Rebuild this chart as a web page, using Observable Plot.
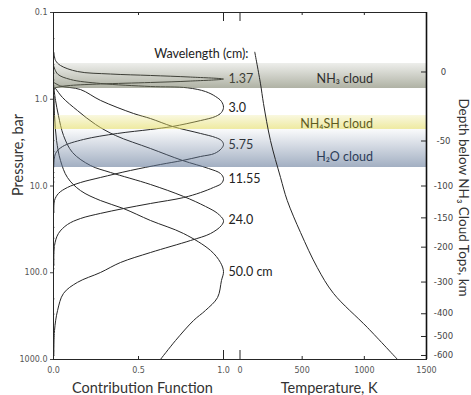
<!DOCTYPE html>
<html><head><meta charset="utf-8">
<script src="https://cdn.jsdelivr.net/npm/d3@7"></script>
<script src="https://cdn.jsdelivr.net/npm/@observablehq/plot@0.6"></script>
<style>
html,body{margin:0;padding:0;background:#fff;}
#chart{position:relative;width:471px;height:395px;overflow:hidden;background:#fff;}
#chart svg{position:absolute;left:0;top:0;}
</style></head><body><div id="chart"></div>
<script>
// ---- data ----
const wavelengths = ["1.37", "3.0", "5.75", "11.55", "24.0", "50.0 cm"];
const labelPressure = [0.59, 1.26, 3.4, 8.4, 24.5, 99];

const cf_1_37 = [0.002,0.012,0.041,0.141,0.335,0.571,0.806,1.0, 0.806,0.571,0.276,0.100,0.029,0.006,0.002,0.001];
const p_1_37  = [0.289,0.357,0.408,0.479,0.512,0.532,0.555,0.585, 0.617,0.641,0.667,0.693,0.723,0.752,0.906,1.76];

const cf_3_0 = [0.002,0.024,0.100,0.276,0.571,0.788,0.894,0.953,0.988,1.0, 0.988,0.953,0.865,0.700,0.571,0.376,0.176,0.053,0.012,0.002];
const p_3_0  = [0.419,0.512,0.592,0.658,0.713,0.738,0.815,0.929,1.06,1.24, 1.42,1.58,1.76,2.06,2.23,2.48,2.91,3.51,4.22,5.81];

const cf_5_75 = [0.002,0.041,0.159,0.276,0.471,0.571,0.700,0.865,0.953,0.988,1.0, 0.988,0.947,0.865,0.759,0.629,0.453,0.276,0.159,0.082,0.029,0.006,0.002];
const p_5_75  = [0.641,0.703,0.773,1.03,1.46,1.67,2.06,2.48,2.76,2.99,3.32, 3.70,4.22,4.57,5.08,5.65,6.62,7.98,9.12,10.4,12.2,14.7,20.2];

const cf_11_55 = [0.002,0.012,0.053,0.141,0.247,0.365,0.571,0.759,0.912,0.982,1.0, 0.988,0.941,0.865,0.765,0.571,0.412,0.276,0.159,0.082,0.029,0.006,0.002];
const p_11_55  = [0.713,0.752,0.955,1.35,1.95,2.62,3.70,5.08,6.28,7.17,8.20, 9.35,10.4,11.9,13.6,15.9,18.2,20.7,23.7,27.8,35.3,48.5,82.4];

const cf_24_0 = [0.002,0.012,0.029,0.059,0.112,0.218,0.335,0.571,0.765,0.894,0.965,1.0, 0.988,0.924,0.806,0.571,0.394,0.276,0.141,0.059,0.024,0.006,0.002];
const p_24_0  = [0.752,1.03,1.54,2.62,4.11,5.81,6.98,9.61,13.2,17.2,20.7,25.0, 28.5,35.3,42.5,58.4,76.2,99.4,129,173,272,463,899];

const cf_50_0 = [0.002,0.006,0.018,0.041,0.082,0.159,0.276,0.412,0.571,0.765,0.924,0.982,1.0, 0.988,0.965,0.894,0.824,0.718,0.629];
const p_50_0  = [0.792,1.54,2.99,5.08,7.98,11.3,14.7,18.2,25.0,35.3,55.4,76.2,96.9, 123,193,272,355,604,1000];

const tempK = [119,165,189,245,326,380,487,621,752,1025,1267];
const tempP = [0.287,0.664,1.12,2.99,7.98,14.7,34.4,86.9,173,428,1000];

const cloudNames  = ["NH₃ cloud", "NH₄SH cloud", "H₂O cloud"];
const cloudTop    = [0.387, 1.54, 2.23];
const cloudBottom = [0.752, 2.23, 6.12];
const cloudLabelP = [0.58, 1.92, 4.66];
const cloudLabelT = [1070, 1070, 1070];

const pressureTicks = [0.1, 1, 10, 100, 1000];
const pressureTickLabels = ["0.1", "1.0", "10.0", "100.0", "1000.0"];
const depthLabels = ["0", "-50", "-100", "-150", "-200", "-300", "-400", "-500", "-600"];
const depthPressures = [0.485, 3.03, 10, 23.3, 50.7, 128, 297, 543, 899];
const cfTicks = [0, 0.5, 1];
const cfTickLabels = ["0.0", "0.5", "1.0"];
const tempTicks = [0, 500, 1000, 1500];

// ---- layout ----
const W = 471, H = 395;
const mTop = 12, mBottom = 36;
const frameH = H - mTop - mBottom;
const ink = "#262626";
const tickFont = "DejaVu Sans";
const textFont = "Lato, 'Open Sans', sans-serif";

const curves = [[cf_1_37, p_1_37], [cf_3_0, p_3_0], [cf_5_75, p_5_75], [cf_11_55, p_11_55], [cf_24_0, p_24_0], [cf_50_0, p_50_0]];
const minorTicks = [];
for (const dec of [0.1, 1, 10, 100]) for (let k = 2; k <= 9; k++) minorTicks.push(+(dec * k).toPrecision(3));

const cfW = 223 - 53;
const cfPlot = Plot.plot({
  width: W, height: H,
  marginTop: mTop, marginBottom: mBottom, marginLeft: 53, marginRight: W - 223,
  x: {domain: [0, 1], axis: null},
  y: {type: "log", domain: [0.1, 1000], reverse: true, axis: null},
  style: {background: "#fff", fontFamily: tickFont, fontSize: "8px", color: "#555", overflow: "visible"},
  marks: [
    ...curves.map(([cf, p]) => Plot.line(cf.map((c, i) => ({cf: c, p: p[i]})),
      {x: "cf", y: "p", stroke: ink, strokeWidth: 1, curve: "catmull-rom"})),
    Plot.tickY(minorTicks, {y: d => d, insetRight: cfW - 2, stroke: "#999", strokeWidth: 0.8}),
    Plot.axisY({ticks: pressureTicks, tickFormat: d => pressureTickLabels[pressureTicks.indexOf(d)],
      tickSize: 3, tickPadding: 3, label: null, stroke: "#444"}),
    Plot.axisX({ticks: cfTicks, tickFormat: d => cfTickLabels[cfTicks.indexOf(d)],
      tickSize: 0, tickPadding: 8, label: null}),
    Plot.tickX([0.5], {x: d => d, insetTop: frameH - 3, stroke: ink}),
    Plot.tickX([0.5], {x: d => d, insetBottom: frameH - 3, stroke: ink}),
    Plot.tickX([1], {x: d => d, insetTop: frameH - 9, stroke: ink}),
    Plot.tickX([1], {x: d => d, insetBottom: frameH - 9, stroke: ink}),
    Plot.text(wavelengths, {x: () => 1, y: (d, i) => labelPressure[i], text: d => d, dx: 5,
      textAnchor: "start", fontFamily: textFont, fontSize: 12.5, fill: "#222"}),
    Plot.text(["Wavelength (cm):"], {x: () => 1, y: () => 0.297, text: d => d, dx: 25,
      textAnchor: "end", fontFamily: textFont, fontSize: 12.5, fill: "#222"}),
    Plot.text(["Pressure, bar"], {frameAnchor: "left", text: d => d, rotate: -90, dx: -35, dy: 10,
      fontFamily: textFont, fontSize: 14.5, fill: "#333"}),
    Plot.text(["Contribution Function"], {frameAnchor: "bottom", text: d => d, dx: 4, dy: 33,
      fontFamily: textFont, fontSize: 14.5, fill: "#333"})
  ]
});

const tPlot = Plot.plot({
  width: W, height: H,
  marginTop: mTop, marginBottom: mBottom, marginLeft: 53, marginRight: W - 426,
  x: {domain: [-1500, 1500], axis: null},
  y: {type: "log", domain: [0.1, 1000], reverse: true, axis: null},
  style: {background: "transparent", fontFamily: tickFont, fontSize: "8px", color: "#555", overflow: "visible"},
  marks: [
    Plot.rect([0], {x1: () => -1500, x2: () => 1500, y1: () => cloudTop[0], y2: () => cloudBottom[0], fill: "url(#gNH3)"}),
    Plot.rect([0], {x1: () => -1500, x2: () => 1500, y1: () => cloudTop[1], y2: () => cloudBottom[1], fill: "url(#gNH4SH)"}),
    Plot.rect([0], {x1: () => -1500, x2: () => 1500, y1: () => cloudTop[2], y2: () => cloudBottom[2], fill: "url(#gH2O)"}),
    Plot.line(tempK.map((t, i) => ({t, p: tempP[i]})), {x: "t", y: "p", stroke: ink, strokeWidth: 1, curve: "catmull-rom"}),
    Plot.text(cloudNames, {x: (d, i) => cloudLabelT[i], y: (d, i) => cloudLabelP[i], text: d => d,
      textAnchor: "end", fontFamily: textFont, fontSize: 12.5,
      fill: (d, i) => ["#2e2e2e", "#5e5c1e", "#2b3c58"][i]}),
    Plot.frame({stroke: ink, strokeWidth: 1}),
    Plot.ruleX([1500], {x: d => d, stroke: "#111", strokeWidth: 1.6}),
    Plot.axisX({ticks: tempTicks, tickSize: 0, tickPadding: 8, label: null, tickFormat: d => String(d)}),
    Plot.tickX([500, 1000], {x: d => d, insetTop: frameH - 3, stroke: ink}),
    Plot.tickX([500, 1000], {x: d => d, insetBottom: frameH - 3, stroke: ink}),
    Plot.tickX([0], {x: d => d, insetTop: frameH - 9, stroke: ink}),
    Plot.tickX([0], {x: d => d, insetBottom: frameH - 9, stroke: ink}),
    Plot.tickY(depthPressures, {y: d => d, insetLeft: (426 - 53) - 5, stroke: ink}),
    Plot.text(depthPressures, {y: d => d, frameAnchor: "right", dx: 17, text: (d, i) => depthLabels[i],
      textAnchor: "middle", fontFamily: tickFont, fontSize: 8.5, fill: "#444"}),
    Plot.text(["Depth below NH₃ Cloud Tops, km"], {x: () => 1500, y: () => 13.6, text: d => d, rotate: 90, dx: 37,
      fontFamily: textFont, fontSize: 13.5, fill: "#333"}),
    Plot.text(["Temperature, K"], {x: () => 750, frameAnchor: "bottom", text: d => d, dx: -4, dy: 33,
      fontFamily: textFont, fontSize: 14.5, fill: "#333"})
  ]
});

// gradient definitions for the cloud bands
const defs = d3.select(tPlot).insert("defs", ":first-child");
function grad(id, color, o0, o1) {
  const g = defs.append("linearGradient").attr("id", id)
    .attr("x1", 0).attr("y1", 0).attr("x2", 0).attr("y2", 1);
  g.append("stop").attr("offset", "0%").attr("stop-color", color).attr("stop-opacity", o0);
  g.append("stop").attr("offset", "100%").attr("stop-color", color).attr("stop-opacity", o1);
}
grad("gNH3", "#6e735a", 0.12, 0.55);
grad("gNH4SH", "#e3dc62", 0.2, 0.6);
grad("gH2O", "#5f7596", 0.03, 0.58);

const chart = document.getElementById("chart");
chart.appendChild(cfPlot);
chart.appendChild(tPlot);
</script>
</body></html>
